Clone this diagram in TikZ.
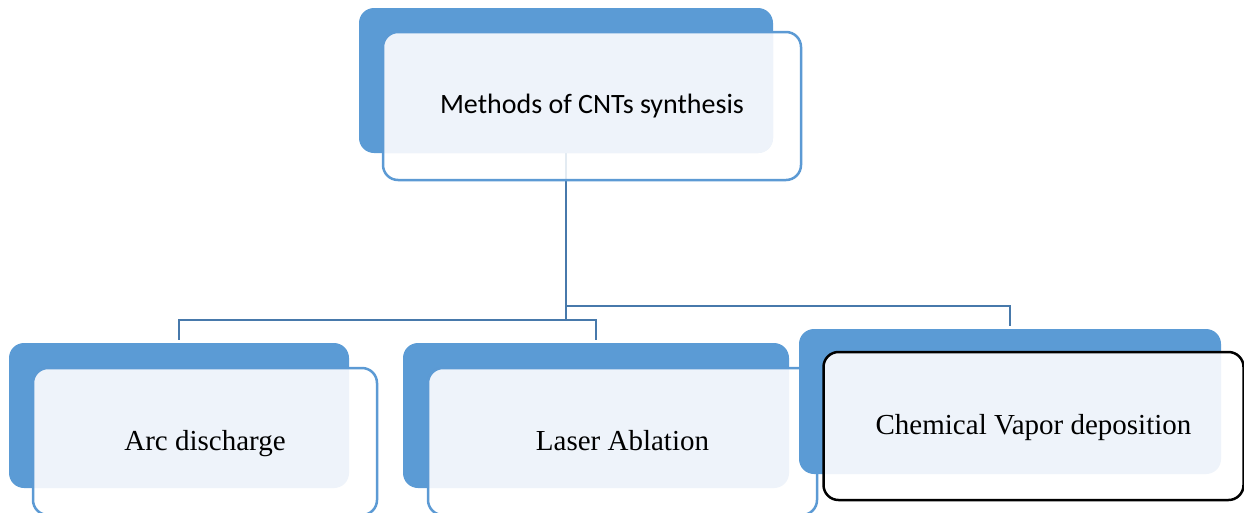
\documentclass[tikz,border=0pt]{standalone}
\usepackage{fontspec}
\newfontfamily\calib{Carlito}
\newfontfamily\tnr{Liberation Serif}
\definecolor{backblue}{RGB}{91,155,213}
\definecolor{lineblue}{RGB}{92,154,212}
\definecolor{connblue}{RGB}{71,121,171}
\definecolor{lightc}{RGB}{238,243,250}
\tikzset{
  backbox/.style={fill=backblue, rounded corners=15pt, inner sep=0pt, outer sep=0pt},
  frontbox/.style={draw=lineblue, line width=2.5pt, fill=white, rounded corners=15pt, inner sep=0pt, outer sep=0pt, text=black},
  lit/.style={path picture={\fill[lightc, fill opacity=1, rounded corners=15pt] (#1.north west) rectangle (#1.south east);}},
  conn/.style={draw=connblue, line width=2.6pt},
  sanslabel/.style={font=\calib\fontsize{28}{34}\selectfont},
  seriflabel/.style={font=\tnr\fontsize{29}{35}\selectfont, text height=20pt, text depth=3pt},
}
\begin{document}
\begin{tikzpicture}[x=1pt,y=-1pt]
\useasboundingbox (0,0) rectangle (1244,512);
% junctions
\coordinate (j1) at (566,320);
\coordinate (j2) at (566,306);
% back boxes
\node[backbox, minimum width=414pt, minimum height=145pt] (topB) at (566,80.5) {};
\node[backbox, minimum width=340pt, minimum height=145pt] (arcB) at (179,415.5) {};
\node[backbox, minimum width=386pt, minimum height=145pt] (lasB) at (596,415.5) {};
% connectors
\draw[conn] (topB.south) -- (j1);
\draw[conn, shorten >=3pt] (j1) -| (arcB.north);
\draw[conn, shorten >=3pt] (j1) -| (lasB.north);
% top front
\node[frontbox, fill opacity=0.85, text opacity=1, lit=topB, minimum width=418pt, minimum height=148pt, sanslabel] (top) at (592,106) {Methods of CNTs synthesis};
% arc front
\node[frontbox, lit=arcB, minimum width=344pt, minimum height=147pt, seriflabel] (arc) at (205,441.5) {Arc discharge};
% laser front
\node[frontbox, lit=lasB, minimum width=389pt, minimum height=147pt, seriflabel] (las) at (622.5,441.5) {Laser Ablation};
% cvd
\node[backbox, minimum width=422pt, minimum height=145pt] (cvdB) at (1010,401.5) {};
\draw[conn, shorten >=3pt] (j2) -| (cvdB.north);
\node[frontbox, draw=black, lit=cvdB, minimum width=420pt, minimum height=148pt, seriflabel] (cvd) at (1033.5,426) {Chemical Vapor deposition};
\end{tikzpicture}
\end{document}
